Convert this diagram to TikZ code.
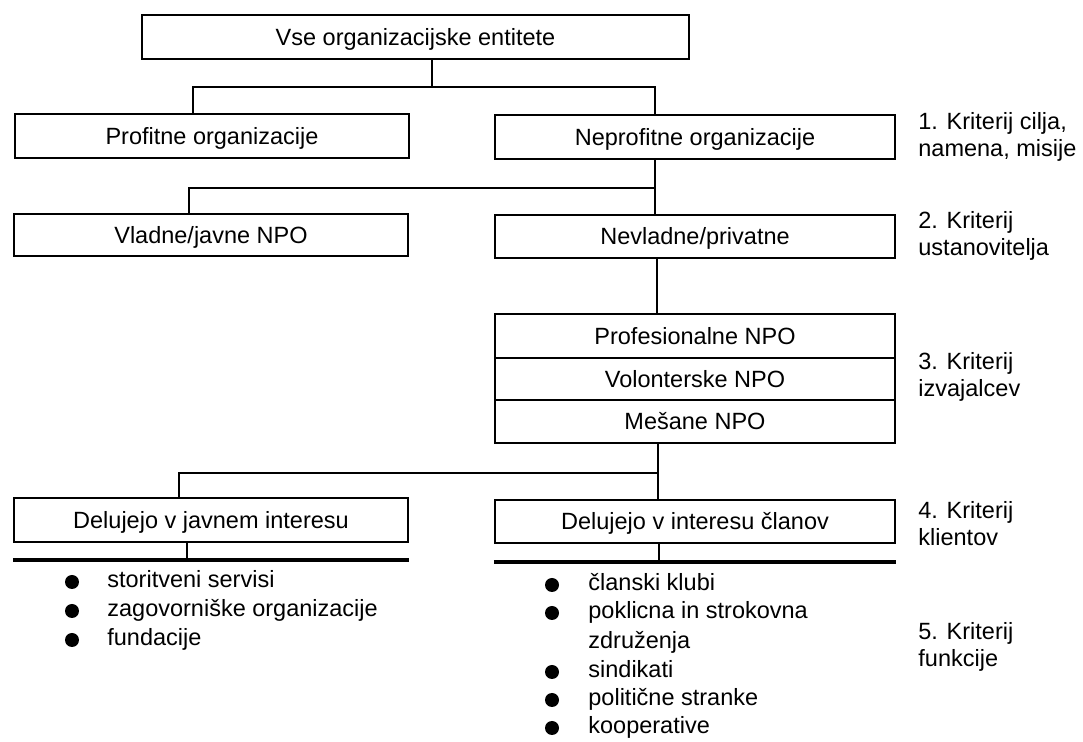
\documentclass[tikz,border=0pt]{standalone}
\usepackage{fontspec}
\setmainfont{Liberation Sans}
\tikzset{
  orgbox/.style={draw, line width=1.1pt, inner sep=0pt, minimum height=22pt, text height=9.4pt, text depth=1pt},
  leftcol/.style={orgbox, minimum width=197pt},
  rightcol/.style={orgbox, minimum width=200pt},
  link/.style={line width=0.7pt},
  thickbar/.style={line width=2.4pt},
  crit/.style={anchor=west, align=left, inner sep=0pt},
  dot/.style={circle, fill, inner sep=0pt, minimum size=7pt},
  item/.style={anchor=west, inner sep=0pt, text height=8.5pt, text depth=2.5pt}
}
\begin{document}
\begin{tikzpicture}[x=0.5pt, y=-0.5pt, font=\fontsize{11.75}{13.5}\selectfont]
        \useasboundingbox (0,0) rectangle (1083,742);
        %% Boxes
        \node[orgbox, minimum width=273.5pt] (all) at (415.5,37) {Vse organizacijske entitete};
        \node[leftcol] (profit) at (212,136) {Profitne organizacije};
        \node[rightcol] (nonprofit) at (695,137) {Neprofitne organizacije};
        \node[leftcol, minimum height=21pt] (gov) at (211,235) {Vladne/javne NPO};
        \node[rightcol, minimum height=21.5pt] (nongov) at (695,236.5) {Nevladne/privatne};
        \node[rightcol] (prof) at (695,336) {Profesionalne NPO};
        \node[rightcol, minimum height=21pt] (vol) at (695,379) {Volonterske NPO};
        \node[rightcol, minimum height=21.5pt] (mixed) at (695,421.5) {Mešane NPO};
        \node[leftcol] (public) at (211,520) {Delujejo v javnem interesu};
        \node[rightcol, minimum height=21.5pt] (members) at (695,521.5) {Delujejo v interesu članov};
        %% Junctions
        \coordinate (s1) at (432,87);
        \coordinate (a1) at (193,87);
        \coordinate (a2) at (655,87);
        \coordinate (b1) at (189,188);
        \coordinate (b2) at (655,188);
        \coordinate (c1) at (657,290);
        \coordinate (d1) at (179,473);
        \coordinate (d2) at (658,473);
        \coordinate (barL) at (187,560);
        \coordinate (barR) at (659,562);
        %% Connectors
        \draw[link] (all.south -| s1) -- (s1);
        \draw[link] (a1 |- profit.north) -- (a1) -- (a2) -- (a2 |- nonprofit.north);
        \draw[link] (nonprofit.south -| b2) -- (b2);
        \draw[link] (b1 |- gov.north) -- (b1) -- (b2) -- (b2 |- nongov.north);
        \draw[link] (nongov.south -| c1) -- (c1 |- prof.north);
        \draw[link] (mixed.south -| d2) -- (d2);
        \draw[link] (d1 |- public.north) -- (d1) -- (d2) -- (d2 |- members.north);
        \draw[link] (public.south -| barL) -- (barL);
        \draw[link] (members.south -| barR) -- (barR);
        %% Bars
        \draw[thickbar] (public.west |- barL) -- (public.east |- barL);
        \draw[thickbar] (members.west |- barR) -- (members.east |- barR);
        %% Criteria
        \node[crit] (k1) at (918,136.5) {1. Kriterij cilja,\\namena, misije};
        \node[crit] (k2) at (918,236) {2. Kriterij\\ustanovitelja};
        \node[crit] (k3) at (918,377) {3. Kriterij\\izvajalcev};
        \node[crit] (k4) at (918,523.5) {4. Kriterij\\klientov};
        \node[crit] (k5) at (918,646.5) {5. Kriterij\\funkcije};
        %% Left list
        \node[dot] (p1) at (72,582) {};
        \node[item] (pt1) at (107,582) {storitveni servisi};
        \node[dot] (p2) at (72,611) {};
        \node[item] (pt2) at (107,611) {zagovorniške organizacije};
        \node[dot] (p3) at (72,640) {};
        \node[item] (pt3) at (107,640) {fundacije};
        %% Right list
        \node[dot] (m1) at (552,585) {};
        \node[item] (mt1) at (588,585) {članski klubi};
        \node[dot] (m2) at (552,613) {};
        \node[item] (mt2) at (588,613) {poklicna in strokovna};
        \node[item] (mt2b) at (588,643) {združenja};
        \node[dot] (m3) at (552,672) {};
        \node[item] (mt3) at (588,672) {sindikati};
        \node[dot] (m4) at (552,700) {};
        \node[item] (mt4) at (588,700) {politične stranke};
        \node[dot] (m5) at (552,728) {};
        \node[item] (mt5) at (588,728) {kooperative};
    \end{tikzpicture}
\end{document}
